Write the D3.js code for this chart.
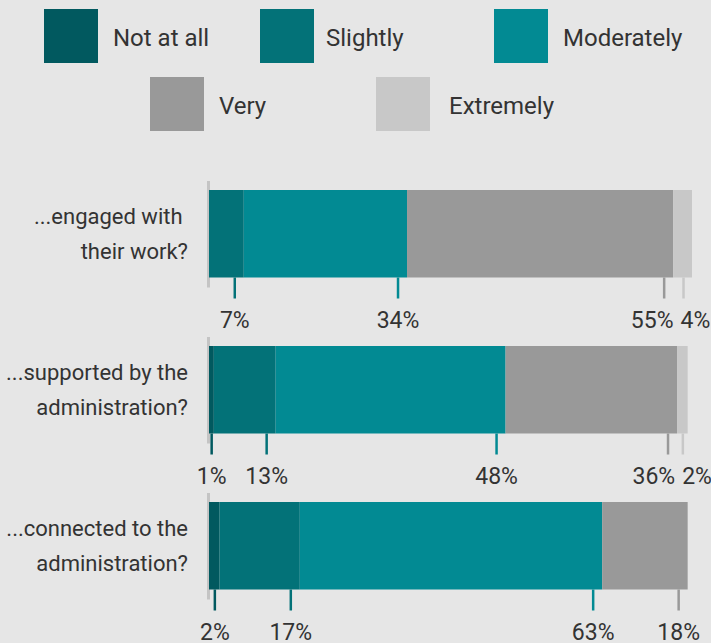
<!DOCTYPE html>
<html>
<head>
<meta charset="utf-8">
<script src="https://cdn.jsdelivr.net/npm/d3@7"></script>
<style>
  html, body { margin: 0; padding: 0; background: #e6e6e6; }
  svg { display: block; font-family: Roboto, "Noto Sans", sans-serif; }
</style>
</head>
<body>
<svg id="chart" width="711" height="643"></svg>
<script>
// ---- data ----
const levels = ["Not at all", "Slightly", "Moderately", "Very", "Extremely"];
const colors = ["#01595f", "#037278", "#028a93", "#999999", "#c8c8c8"];
const questions = ["engaged", "supported", "connected"];
const questionLines = [
  ["...engaged with ", "their work?"],
  ["...supported by the", "administration?"],
  ["...connected to the", "administration?"]
];
const engagedValues   = [0.0, 7.2, 33.8, 55.1, 3.9];
const supportedValues = [1.0, 12.8, 47.6, 35.5, 2.2];
const connectedValues = [2.2, 16.6, 62.6, 17.7, 0.0];
const seriesValues = [engagedValues, supportedValues, connectedValues];

// ---- layout ----
const svg = d3.select("#chart");
const W = 711, H = 643;
svg.append("rect").attr("width", W).attr("height", H).attr("fill", "#e6e6e6");

const x = d3.scaleLinear().domain([0, 100]).range([209, 692]);
const y = d3.scaleBand().domain(questions).range([190, 190 + 3 * 156]).paddingInner(0.44).paddingOuter(0);
// bar height
const bh = 87.5;
const yTop = q => 190 + questions.indexOf(q) * 156;

// ---- legend ----
const legendPos = [
  {x: 44, y: 9}, {x: 260, y: 9}, {x: 494, y: 9},
  {x: 150, y: 77}, {x: 376, y: 77}
];
const textGap = [15, 12, 15, 15, 19];
const lg = svg.append("g");
levels.forEach((lv, i) => {
  const p = legendPos[i];
  lg.append("rect").attr("x", p.x).attr("y", p.y).attr("width", 54).attr("height", 54).attr("fill", colors[i]);
  lg.append("text").attr("x", p.x + 54 + textGap[i]).attr("y", p.y + 36.5)
    .attr("font-size", 24).attr("fill", "#333").text(lv);
});

// ---- rows ----
questions.forEach((q, qi) => {
  const vals = seriesValues[qi];
  const top = yTop(q);
  const g = svg.append("g");
  // axis line
  g.append("line").attr("x1", x(0) - 0.5).attr("x2", x(0) - 0.5)
    .attr("y1", top - 9).attr("y2", top + bh + 10)
    .attr("stroke", "#c4c4c4").attr("stroke-width", 3);
  // segments
  let cum = 0;
  const segs = vals.map((v, i) => {
    const s = {i, v, x0: x(cum), x1: x(cum + v)};
    cum += v;
    return s;
  });
  g.selectAll("rect.seg").data(segs.filter(s => s.v > 0)).enter().append("rect")
    .attr("x", s => s.x0).attr("y", top)
    .attr("width", s => s.x1 - s.x0).attr("height", bh)
    .attr("fill", s => colors[s.i]);
  // ticks + labels
  const shown = segs.filter(s => s.v > 0).map(s => {
    const w = s.x1 - s.x0;
    s.tx = s.x1 - Math.min(9, w * 0.45);
    return s;
  });
  g.selectAll("line.tick").data(shown).enter().append("line")
    .attr("x1", s => s.tx).attr("x2", s => s.tx)
    .attr("y1", top + bh).attr("y2", top + bh + 21)
    .attr("stroke", s => colors[s.i]).attr("stroke-width", 2.5);
  const labels = g.selectAll("text.val").data(shown).enter().append("text")
    .attr("class", "val")
    .attr("font-size", 23).attr("fill", "#333")
    .attr("text-anchor", "middle")
    .attr("y", top + bh + 50)
    .text(s => Math.round(s.v) + "%");
  labels.each(function(s) { s.lw = this.getComputedTextLength(); s.cx = s.tx; });
  // resolve overlaps
  const gap = 7;
  for (let iter = 0; iter < 20; iter++) {
    for (let k = 0; k < shown.length - 1; k++) {
      const a = shown[k], b = shown[k + 1];
      const need = (a.lw + b.lw) / 2 + gap;
      if (b.cx - a.cx < need) {
        const mid = (a.cx + b.cx) / 2;
        a.cx = mid - need / 2; b.cx = mid + need / 2;
      }
    }
  }
  labels.attr("x", s => s.cx);
  // category label
  const cy = top + bh / 2;
  const t = g.append("text").attr("text-anchor", "end").attr("font-size", 22).attr("fill", "#333")
    .style("white-space", "pre");
  t.append("tspan").attr("x", 188).attr("y", cy - 10).text(questionLines[qi][0]);
  t.append("tspan").attr("x", 188).attr("y", cy + 25).text(questionLines[qi][1]);
});
</script>
</body>
</html>
